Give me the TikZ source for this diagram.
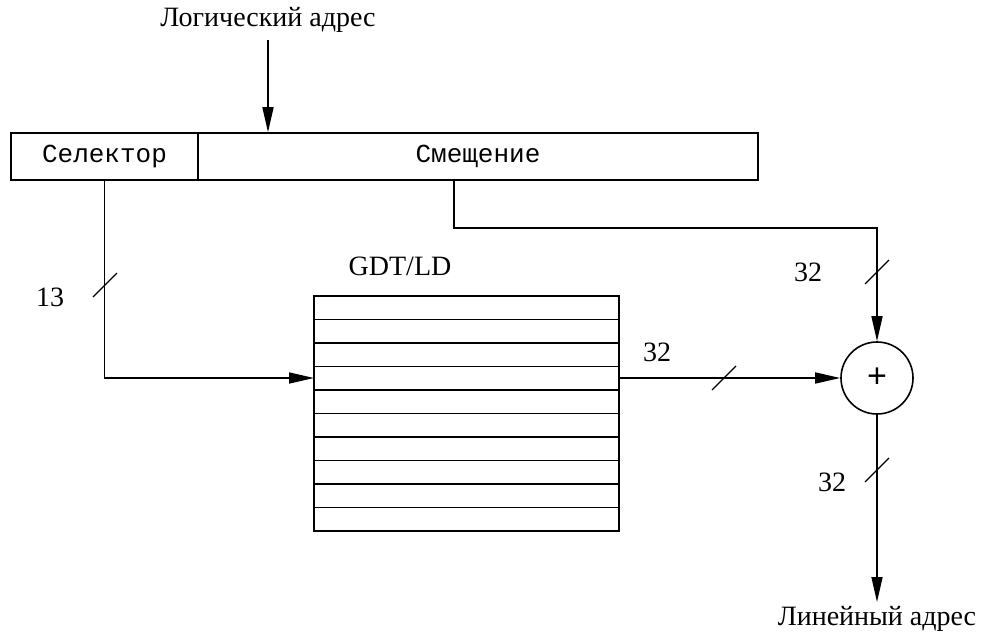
\documentclass[tikz,border=0pt]{standalone}
\usepackage{fontspec}
\setmainfont{Liberation Serif}
\setmonofont{Liberation Mono}
\usetikzlibrary{arrows.meta,calc}
\tikzset{
  ln/.style={line width=1.6pt},
  arr/.style={ln,-{Triangle[length=25pt,width=11pt]}},
  fieldbox/.style={draw,ln,inner sep=0pt,minimum height=47pt,font=\ttfamily\fontsize{26}{30}\selectfont},
  lbl/.style={font=\fontsize{28}{32}\selectfont,inner sep=0pt},
  slash/.style={line width=1.3pt},
}
\begin{document}
\begin{tikzpicture}[x=1pt,y=-1pt]
\useasboundingbox (0,0) rectangle (982,635);
% address fields
\node[fieldbox,minimum width=187pt] (sel) at (104.5,156.5) {Селектор};
\node[fieldbox,minimum width=560pt] (off) at (478,156.5) {Смещение};
% table
\node[draw,ln,minimum width=305pt,minimum height=235pt,inner sep=0pt,outer sep=0pt] (tbl) at (466.5,413.5) {};
\foreach \i in {1,...,9} {
  \draw[ln] ($(tbl.north west)+(0,23.5*\i)$) -- ($(tbl.north east)+(0,23.5*\i)$);
}
\node[lbl] (gdt) at (400,266) {GDT/LD};
% adder
\node[draw,ln,circle,minimum size=72pt,inner sep=0pt] (sum) at (877,378) {};
\node[font=\ttfamily\fontsize{34}{38}\selectfont,inner sep=0pt] (plus) at (sum.center) {+};
% texts
\node[lbl] (logaddr) at (268,20) {Логический адрес};
\node[lbl] (linaddr) at (877,619) {Линейный адрес};
% coordinates
\coordinate (la) at (268,40);
\coordinate (tin) at ($(tbl.north west)+(0,82)$);
\coordinate (tout) at ($(tbl.north east)+(0,82)$);
\coordinate (offd) at ($(off.south west)+(257,0)$);
\coordinate (lend) at (877,602);
% connectors
\draw[arr] (la) -- (la |- off.north);
\draw[arr] (sel.south) |- (tin);
\draw[arr] (offd) -- ++(0,47) -| (sum.north);
\draw[arr] (tout) -- (tout -| sum.west);
\draw[arr] (sum.south) -- (lend);
% bus slashes
\draw[slash] (93,297) -- (117,273);
\draw[slash] (865,284) -- (889,260);
\draw[slash] (712,390) -- (736,366);
\draw[slash] (865,482) -- (889,458);
% bus widths
\node[lbl] (n13) at (50,297) {13};
\node[lbl] (n32a) at (808,272) {32};
\node[lbl] (n32b) at (657,352) {32};
\node[lbl] (n32c) at (832,482) {32};
\end{tikzpicture}
\end{document}
